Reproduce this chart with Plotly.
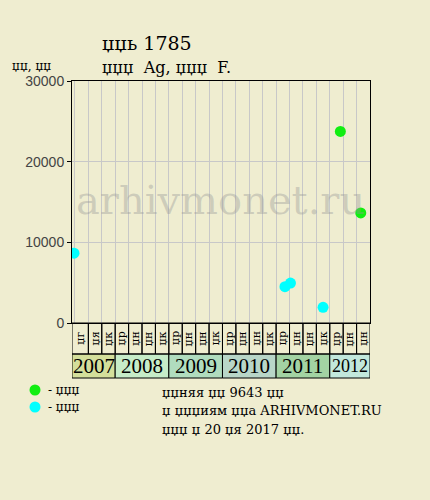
import plotly.graph_objects as go

# данные
years = ['2007', '2008', '2009', '2010', '2011', '2012']
year_cols = [3, 4, 4, 4, 4, 3]
month_labels = ['џг', 'џя', 'џк',
                'џр', 'џн', 'џн', 'џк',
                'џр', 'џн', 'џн', 'џк',
                'џр', 'џн', 'џн', 'џк',
                'џр', 'џн', 'џн', 'џк',
                'џр', 'џн', 'џн']

cyan_x = [-0.07, 15.66, 16.07, 18.50]
cyan_y = [8650, 4500, 4950, 1950]
green_x = [19.79, 21.31]
green_y = [23750, 13650]

y_ticks = [0, 10000, 20000, 30000]

year_colors = ['#d4df9b', '#c6ecc8', '#b0dcbe', '#b8d6c8', '#a3d3a3', '#c2e8dc']

BG = '#efedd0'
SERIF = 'DejaVu Serif'
X_MIN, X_MAX = -0.22, 22

# plot area in pixels
L, R, T, B = 72, 370, 81, 323


def px(x):
    return (x - L) / (R - L)


def py(y):
    return (B - y) / (B - T)


fig = go.Figure()

fig.add_trace(go.Scatter(
    x=cyan_x, y=cyan_y, mode='markers',
    marker=dict(color='#00ffff', size=11),
    hoverinfo='y', showlegend=False
))
fig.add_trace(go.Scatter(
    x=green_x, y=green_y, mode='markers',
    marker=dict(color='#11ee11', size=11),
    hoverinfo='y', showlegend=False
))

shapes = []
annotations = []

# ячейки месяцев
row1 = py(354)
row2 = py(378)
for i, lab in enumerate(month_labels):
    x0 = X_MIN if i == 0 else i
    x1 = i + 1
    shapes.append(dict(type='rect', xref='x', yref='paper', x0=x0, x1=x1,
                       y0=row1, y1=0, line=dict(color='black', width=1)))
    annotations.append(dict(x=(x0 + x1) / 2, y=row1 / 2, xref='x', yref='paper',
                            xanchor='center', yanchor='middle',
                            text=lab, textangle=-90, showarrow=False,
                            font=dict(family=SERIF, size=11, color='black')))

# ячейки годов
start = 0
for yr, n, col in zip(years, year_cols, year_colors):
    x0 = X_MIN if start == 0 else start
    x1 = start + n
    shapes.append(dict(type='rect', xref='x', yref='paper', x0=x0, x1=x1,
                       y0=row2, y1=row1, fillcolor=col,
                       line=dict(color='black', width=1), layer='below'))
    annotations.append(dict(x=(x0 + x1) / 2, y=(row1 + row2) / 2, xref='x', yref='paper',
                            xanchor='center', yanchor='middle',
                            text=yr, showarrow=False,
                            font=dict(family='Liberation Serif',
                                      size=21 if n > 3 or start == 0 else 18,
                                      color='black')))
    start += n

# водяной знак
annotations.append(dict(x=px(220), y=py(200), xref='paper', yref='paper',
                        xanchor='center', yanchor='middle',
                        text='arhivmonet.ru', showarrow=False,
                        font=dict(family=SERIF, size=40, color='rgba(150,150,150,0.38)')))

# заголовки
annotations += [
    dict(x=px(100), y=py(43), text='џџь 1785', font=dict(size=19)),
    dict(x=px(100), y=py(67), text='џџџ  Ag, џџџ  F.', font=dict(size=16)),
    dict(x=px(10), y=py(66), text='џџ, џџ', font=dict(size=12)),
    dict(x=px(46), y=py(390), text='- џџџ', font=dict(size=12)),
    dict(x=px(46), y=py(407), text='- џџџ', font=dict(size=12)),
    dict(x=px(160), y=py(392), text='џџняя џџ 9643 џџ', font=dict(size=13)),
    dict(x=px(160), y=py(410), text='џ џџџиям џџа ARHIVMONET.RU', font=dict(size=13)),
    dict(x=px(160), y=py(429), text='џџџ џ 20 џя 2017 џџ.', font=dict(size=13)),
]
for a in annotations[-8:]:
    a.update(xref='paper', yref='paper', xanchor='left', yanchor='middle', showarrow=False)
    a['font'].update(family=SERIF, color='black')

# значки легенды
for yc, col in [(390, '#11ee11'), (407, '#00ffff')]:
    shapes.append(dict(type='circle', xref='paper', yref='paper',
                       x0=px(29.5), x1=px(40.5), y0=py(yc + 5.5), y1=py(yc - 5.5),
                       fillcolor=col, line=dict(width=0)))

fig.update_layout(
    width=430, height=500,
    margin=dict(l=L, r=430 - R, t=T, b=500 - B),
    paper_bgcolor=BG, plot_bgcolor=BG,
    shapes=shapes, annotations=annotations,
    xaxis=dict(range=[X_MIN, X_MAX], tickvals=list(range(22)), showticklabels=False,
               showgrid=True, gridcolor='#c8c8c8', gridwidth=1, zeroline=False,
               showline=True, mirror=True, linecolor='black', linewidth=1, ticks=''),
    yaxis=dict(range=[0, 30000], tickvals=y_ticks, tickformat='d', showgrid=True,
               gridcolor='#c8c8c8', zeroline=False, showline=True, mirror=True,
               linecolor='black', linewidth=1,
               ticks='outside', ticklen=4, tickcolor='black',
               tickfont=dict(family='Liberation Sans', size=14, color='#444444')),
    showlegend=False,
    hovermode='closest'
)

fig.write_html("out.html", config={'displayModeBar': False},
               post_script="document.body.style.margin='0';")
